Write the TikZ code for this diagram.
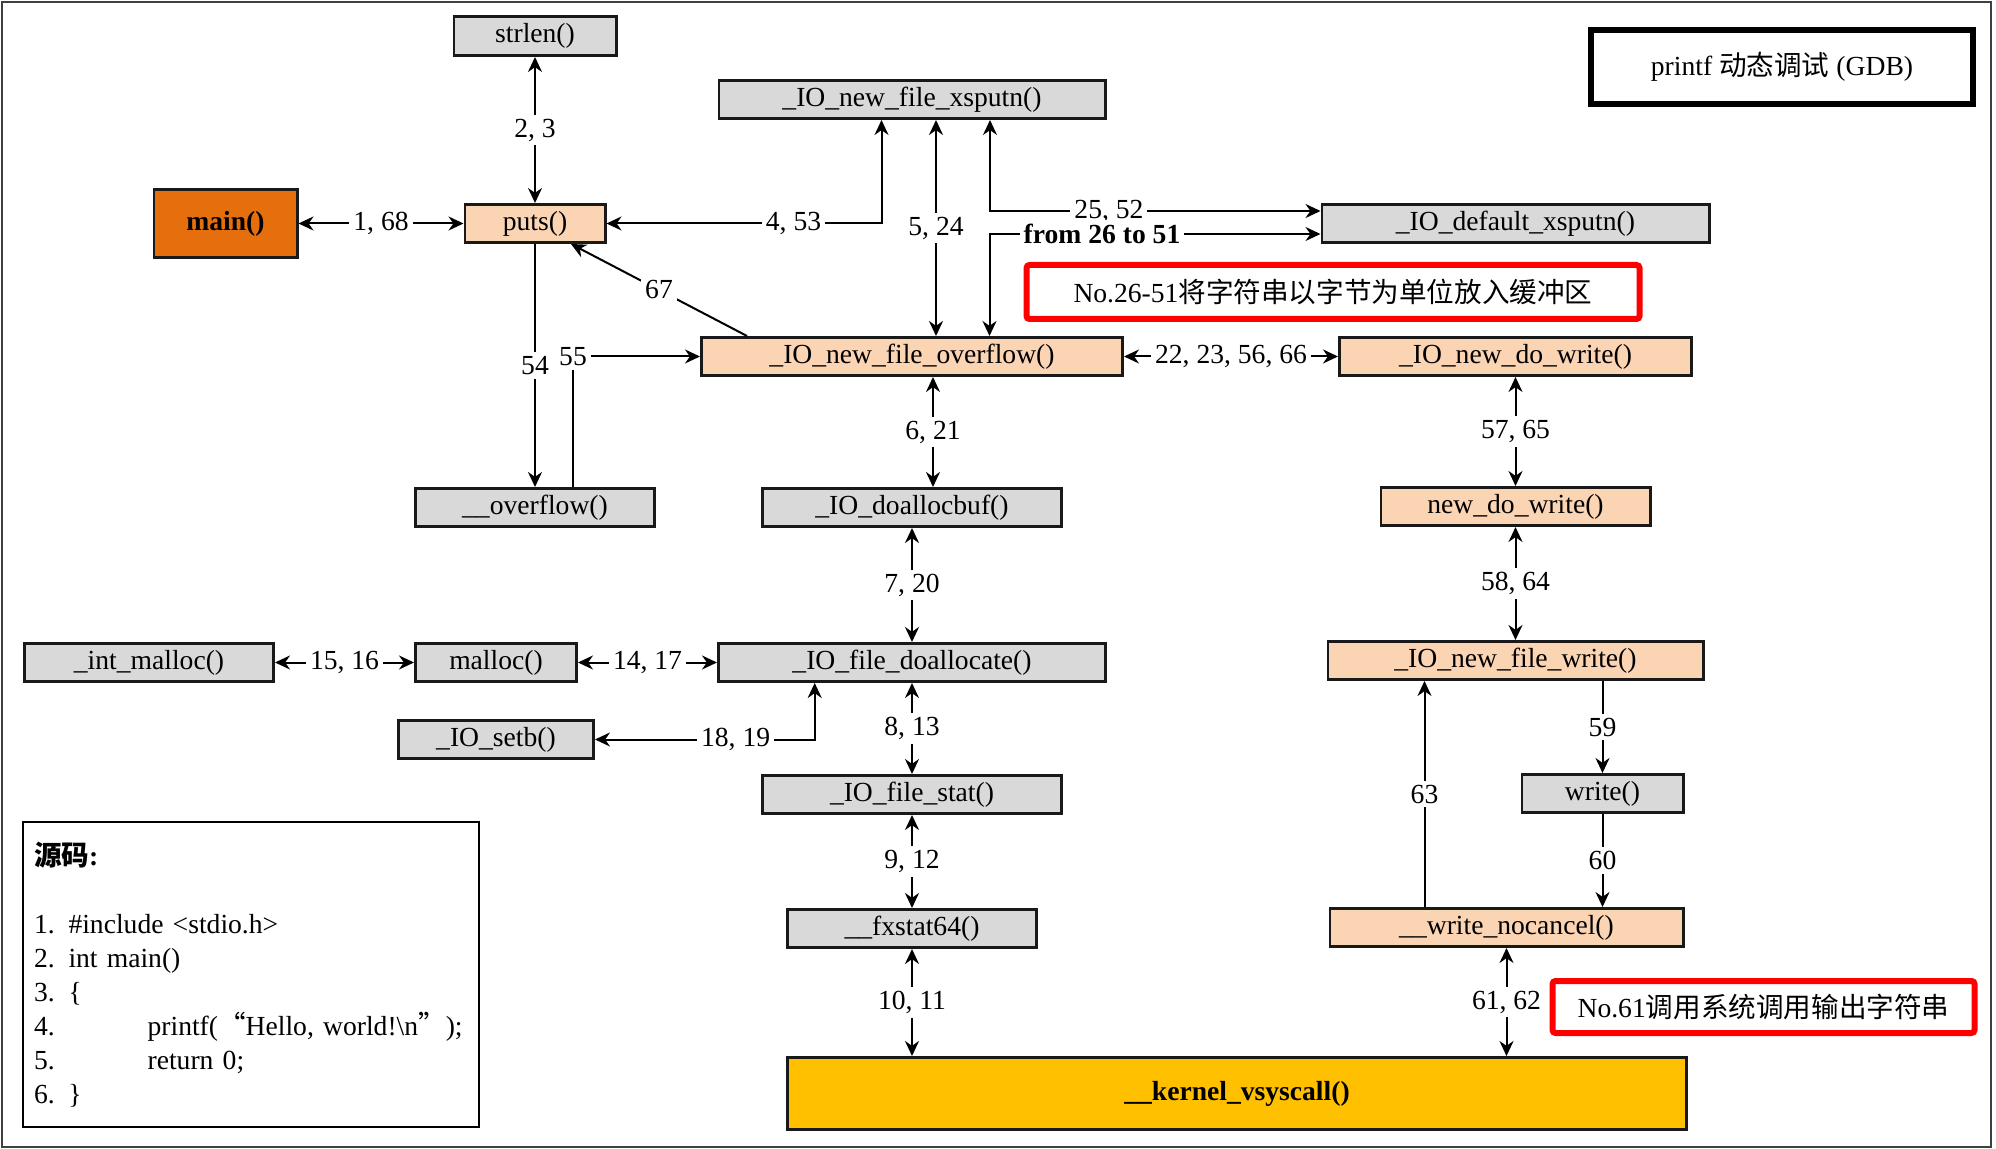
\documentclass[tikz,border=0pt]{standalone}
\usepackage{fontspec}
\setmainfont{Liberation Serif}
\newfontfamily\cjk{Noto Sans CJK SC}
\usetikzlibrary{arrows.meta,positioning}
\newcommand{\zh}[1]{{\cjk #1}}
\newcommand{\callfont}{\fontsize{13.8pt}{16.5pt}\selectfont}
\definecolor{fngray}{HTML}{D9D9D9}
\definecolor{peach}{HTML}{FBD4B4}
\definecolor{mainorange}{HTML}{E66F0D}
\definecolor{kernelyellow}{HTML}{FFC000}

\begin{document}
\begin{tikzpicture}[
  x=0.5pt, y=-0.5pt,
  fn/.style={draw=black!90, line width=1.3pt, fill=fngray, minimum height=19.2pt,
             inner sep=0pt, align=center, font=\callfont},
  hot/.style={fn, fill=peach},
  arr/.style={-{Stealth[length=7.5pt, width=7pt]}, line width=1pt},
  biarr/.style={{Stealth[length=7.5pt, width=7pt]}-{Stealth[length=7.5pt, width=7pt]}, line width=1pt},
  lbl/.style={fill=white, inner sep=2pt, font=\callfont},
  note/.style={draw=red, line width=3pt, rounded corners=1.5pt, inner sep=0pt, font=\callfont},
]
\useasboundingbox (0,0) rectangle (1996,1149);
\draw[black!75, line width=1pt] (2,2) rectangle (1991,1147);

% Middle column
\node[hot, minimum width=210.7pt] (overflow) at (912,356.5) {\_IO\_new\_file\_overflow()};
\node[fn, minimum width=193.2pt, above=108pt of overflow] (xsputn) {\_IO\_new\_file\_xsputn()};
\node[fn, minimum width=149.7pt, below=55pt of overflow] (doallocbuf) {\_IO\_doallocbuf()};
\node[fn, minimum width=193.7pt, below=57pt of doallocbuf] (doallocate) {\_IO\_file\_doallocate()};
\node[fn, minimum width=149.7pt, below=45.5pt of doallocate] (filestat) {\_IO\_file\_stat()};
\node[fn, minimum width=124.7pt, below=46.5pt of filestat] (fxstat) {\_\_fxstat64()};

% Left side
\node[fn, minimum width=119.7pt, left=52.5pt of doallocbuf] (uoverflow) {\_\_overflow()};
\node[hot, minimum width=70.2pt, above=121.5pt of uoverflow] (puts) {puts()};
\node[fn, minimum width=81.2pt, minimum height=19.7pt, above=73pt of puts] (strlen) {strlen()};
\node[fn, fill=mainorange, minimum width=71.7pt, minimum height=34.2pt, font=\callfont\bfseries,
      left=82.5pt of puts] (main) {main()};
\node[fn, minimum width=80.7pt, left=69.5pt of doallocate] (malloc) {malloc()};
\node[fn, minimum width=124.7pt, left=69.5pt of malloc] (intmalloc) {\_int\_malloc()};
\node[fn, minimum width=97.7pt, below=18pt of malloc] (setb) {\_IO\_setb()};

% Right column
\node[hot, minimum width=176.2pt, right=107pt of overflow] (dowrite) {\_IO\_new\_do\_write()};
\node[fn, minimum width=193.7pt, above=46pt of dowrite] (default) {\_IO\_default\_xsputn()};
\node[hot, minimum width=134.7pt, below=54.5pt of dowrite] (newdowrite) {new\_do\_write()};
\node[hot, minimum width=187.7pt, below=56.5pt of newdowrite] (filewrite) {\_IO\_new\_file\_write()};
\node[fn, minimum width=80.7pt, below=46pt of filewrite, xshift=43.5pt] (write) {write()};
\node[hot, minimum width=176.7pt, below=46.5pt of write, xshift=-48pt] (nocancel) {\_\_write\_nocancel()};

% Kernel entry
\node[fn, fill=kernelyellow, minimum width=449.7pt, minimum height=36.2pt, font=\callfont\bfseries,
      below=53.5pt of fxstat, xshift=162.5pt] (kernel) {\_\_kernel\_vsyscall()};

% Notes and title
\node[note, minimum width=306.5pt, minimum height=27pt, below=9pt of default, xshift=-91.25pt] (note1)
  {No.26-51\zh{将字符串以字节为单位放入缓冲区}};
\node[note, minimum width=211pt, minimum height=26pt, below=15pt of nocancel, xshift=128.5pt] (note2)
  {No.61\zh{调用系统调用输出字符串}};
\node[draw, line width=2.8pt, minimum width=191.2pt, minimum height=37.2pt, font=\callfont] (title)
  at (1782,67) {printf \zh{动态调试} (GDB)};

% Source code
\node[draw, line width=1.2pt, minimum width=227.8pt, minimum height=152.3pt, align=left,
      text width=217pt, inner xsep=5.5pt, font=\fontsize{13.8pt}{17pt}\selectfont] (code) at (251,974.5)
  {\textbf{\zh{源码}:}\\[17pt]
   1. \#include <stdio.h>\\
   2. int main()\\
   3. \{\\
   \makebox[56.8pt][l]{4.}printf(\zh{“}Hello, world!\textbackslash n\zh{”});\\
   \makebox[56.8pt][l]{5.}return 0;\\
   6. \}};

% puts and its neighbours
\draw[biarr] (main) -- node[lbl]{1, 68} (puts);
\draw[biarr] (puts) -- node[lbl]{2, 3} (strlen);
\draw[biarr] (puts.east) -| node[lbl, pos=0.34]{4, 53} ([xshift=-15.25pt]xsputn.south);
\draw[arr] ([xshift=23.5pt]overflow.north west) -- node[lbl]{67} ([xshift=18pt]puts.south);
\draw[arr] (puts) -- node[lbl]{54} (uoverflow);
\draw[arr] ([xshift=19pt]uoverflow.north) |- node[lbl]{55} (overflow.west);

% xsputn / overflow / default
\draw[biarr] ([xshift=12pt]xsputn.south) -- node[lbl]{5, 24} ([xshift=12pt]overflow.north);
\draw[biarr] ([xshift=39pt]xsputn.south) |- node[lbl, pos=0.68]{25, 52} ([yshift=6.25pt]default.west);
\draw[biarr] ([xshift=38.75pt]overflow.north) |- node[lbl, pos=0.67, font=\callfont\bfseries]{from 26 to 51}
  ([yshift=-5.25pt]default.west);
\draw[biarr] (overflow) -- node[lbl]{22, 23, 56, 66} (dowrite);

% buffer allocation
\draw[biarr] ([xshift=10.5pt]overflow.south) -- node[lbl]{6, 21} ([xshift=10.5pt]overflow.south |- doallocbuf.north);
\draw[biarr] (doallocbuf) -- node[lbl]{7, 20} (doallocate);
\draw[biarr] (intmalloc) -- node[lbl]{15, 16} (malloc);
\draw[biarr] (malloc) -- node[lbl]{14, 17} (doallocate);
\draw[biarr] ([xshift=-48.65pt]doallocate.south) |- node[lbl, pos=0.68]{18, 19} (setb.east);
\draw[biarr] (doallocate) -- node[lbl]{8, 13} (filestat);
\draw[biarr] (filestat) -- node[lbl]{9, 12} (fxstat);
\draw[biarr] (fxstat) -- node[lbl]{10, 11} (fxstat.south |- kernel.north);

% write path
\draw[biarr] (dowrite) -- node[lbl]{57, 65} (newdowrite);
\draw[biarr] (newdowrite) -- node[lbl]{58, 64} (filewrite);
\draw[arr] (filewrite.south -| write.north) -- node[lbl]{59} (write.north);
\draw[arr] (write) -- node[lbl]{60} (write.south |- nocancel.north);
\draw[arr] ([xshift=-41pt]nocancel.north) -- node[lbl]{63} ([xshift=-41pt]nocancel.north |- filewrite.south);
\draw[biarr] (nocancel) -- node[lbl]{61, 62} (nocancel.south |- kernel.north);

\end{tikzpicture}
\end{document}
